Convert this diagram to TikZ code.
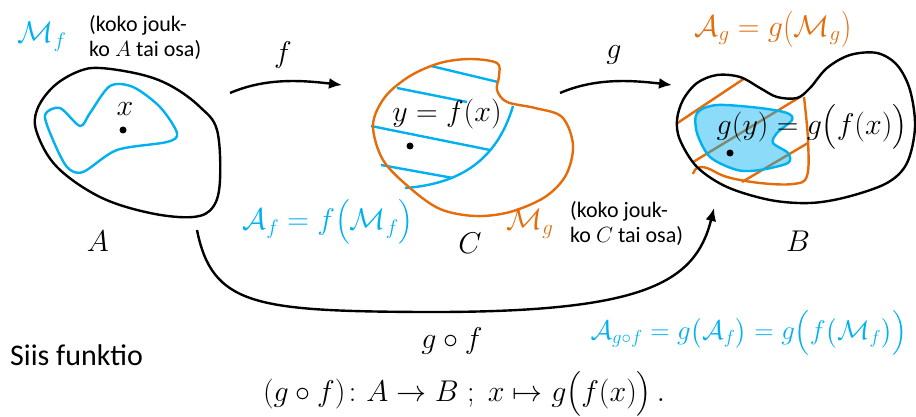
\RequirePackage{fix-cm}
\documentclass[tikz,border=0pt]{standalone}
\usepackage{fontspec}
\setmainfont{Carlito}
\usepackage{amsmath}
\usepackage{graphicx}
\usetikzlibrary{arrows.meta}
\definecolor{cblue}{HTML}{00B0F0}
\definecolor{corange}{HTML}{E46C0A}
\newcommand{\tallparL}{\mathopen{\raisebox{-2pt}{\scalebox{1}[1.22]{$($}}}}
\newcommand{\tallparR}{\mathclose{\raisebox{-2pt}{\scalebox{1}[1.22]{$)$}}}}
\begin{document}
\begin{tikzpicture}[x=1pt,y=-1pt,
  setline/.style={line width=2.4pt, line join=round},
  hatchb/.style={cblue, line width=2.4pt},
  hatcho/.style={corange, line width=2.4pt},
  mlbl/.style={inner sep=0pt, font=\fontsize{30}{34}\selectfont},
  txtlbl/.style={inner sep=0pt, align=left, font=\fontsize{22}{25}\selectfont},
  maparrow/.style={line width=2.4pt, -{Latex[length=13pt,width=11pt]}},
  dotm/.style={circle, fill=black, inner sep=0pt, minimum size=7pt}
]
\useasboundingbox (0,0) rectangle (916,417);

% ---- Set A ----
\draw[setline] plot[smooth cycle, tension=0.6] coordinates {(37,110) (53,87) (77,72) (100,68) (143,75) (173,87) (200,107) (217,130) (220,180) (213,207) (193,217) (150,213) (100,197) (57,167) (37,133)};
\draw[setline, cblue] plot[smooth cycle, tension=0.5] coordinates {(45,115) (60,108) (80,126) (90,113) (110,86) (133,87) (160,107) (177,133) (167,142) (117,150) (83,172) (67,167) (53,140)};
\node[dotm] (xdot) at (123,130) {};
\node[mlbl] (xl) at (125,109) {$x$};
\node[mlbl, text=cblue] (Mf) at (42,37) {$\mathcal{M}_f$};
\node[txtlbl, anchor=west] (kokoA) at (89,37) {(koko jouk-\\ko $A$ tai osa)};
\node[mlbl] (Al) at (98,241) {$A$};

% ---- Set C ----
\draw[hatchb] (431,66) -- (498,82);
\draw[hatchb] (397,88) -- (467,102);
\draw[hatchb] (371,126) -- (490,150);
\draw[hatchb] (381,165) -- (453,178);
\draw[hatchb] (513,106) .. controls (497,160) and (460,184) .. (405,188);
\draw[setline, corange] plot[smooth cycle, tension=0.55] coordinates {(373,125) (385,97) (410,76) (440,63) (470,59) (497,63) (499,76) (497,90) (507,102) (535,108) (562,117) (573,145) (566,175) (545,197) (510,212) (475,216) (440,209) (410,188) (383,160)};
\node[dotm] (ydot) at (410,146) {};
\node[mlbl] (yl) at (447,114) {$y=f(x)$};
\node[mlbl] (Cl) at (470,243) {$C$};
\node[mlbl, text=cblue] (Af) at (328,222) {$\mathcal{A}_f=f\bigl(\mathcal{M}_f\bigr)$};
\node[mlbl, text=corange] (Mg) at (530,224) {$\mathcal{M}_g$};
\node[txtlbl, anchor=west] (kokoC) at (570,223) {(koko jouk-\\ko $C$ tai osa)};

% ---- Set B ----
\begin{scope}
\clip plot[smooth cycle, tension=0.55] coordinates {(677,120) (683,100) (697,83) (717,75) (740,77) (760,88) (777,97) (797,98) (810,88) (827,68) (850,55) (877,53) (897,65) (910,90) (915,127) (907,163) (887,183) (847,197) (810,203) (770,200) (727,187) (697,167) (680,140)};
\draw[hatcho] (670,128) -- (745,78);
\draw[hatcho] (680,170) -- (800,97);
\draw[hatcho] (742,182) -- (808,143);
\end{scope}
\draw[hatcho] plot[smooth, tension=0.6] coordinates {(804,97) (808,140) (807,176) (793,184) (760,183) (727,177) (707,168) (697,168) (693,174)};
\draw[setline] plot[smooth cycle, tension=0.55] coordinates {(677,120) (683,100) (697,83) (717,75) (740,77) (760,88) (777,97) (797,98) (810,88) (827,68) (850,55) (877,53) (897,65) (910,90) (915,127) (907,163) (887,183) (847,197) (810,203) (770,200) (727,187) (697,167) (680,140)};
\draw[line width=2.4pt, cblue, fill=cblue, fill opacity=0.45] plot[smooth cycle, tension=0.5] coordinates {(697,113) (717,105) (760,108) (787,113) (792,120) (777,133) (773,143) (788,153) (788,163) (760,170) (737,170) (710,157) (697,133)};
\node[dotm] (gdot) at (730,153) {};
\node[mlbl] (gl) at (812,127) {$g(y)=g\bigl(f(x)\bigr)$};
\node[mlbl] (Bl) at (798,241) {$B$};
\node[mlbl, text=corange] (Ag) at (773,29) {$\mathcal{A}_g=g\tallparL\mathcal{M}_g\tallparR$};

% ---- arrows ----
\coordinate (fs) at (230,93);
\coordinate (fe) at (342,85);
\coordinate (gs) at (560,93);
\coordinate (ge) at (672,85);
\draw[maparrow] (fs) .. controls (265,78) and (300,80) .. (fe);
\draw[maparrow] (gs) .. controls (595,78) and (630,80) .. (ge);
\node[mlbl] (fl) at (283,55) {$f$};
\node[mlbl] (gll) at (614,55) {$g$};
\coordinate (cs) at (197,230);
\coordinate (cm) at (420,312);
\coordinate (ce) at (714,208);
\draw[line width=2.4pt] (cs) .. controls (212,305) and (255,311) .. (cm);
\draw[maparrow] (cm) .. controls (640,313) and (695,285) .. (ce);
\node[mlbl] (gfl) at (452,341) {$g\circ f$};
\node[inner sep=0pt, font=\fontsize{27}{31}\selectfont, text=cblue] (Agf) at (749,333) {$\mathcal{A}_{g\circ f}=g\bigl(\mathcal{A}_f\bigr)=g\Bigl(f\bigl(\mathcal{M}_f\bigr)\Bigr)$};

% ---- bottom text ----
\node[inner sep=0pt, anchor=west, font=\fontsize{30}{34}\selectfont] (siis) at (10,355) {Siis funktio};
\node[mlbl] (form) at (464,394) {$(g\circ f)\colon A\to B\;;\;x\mapsto g\bigl(f(x)\bigr)\,.$};
\end{tikzpicture}
\end{document}
